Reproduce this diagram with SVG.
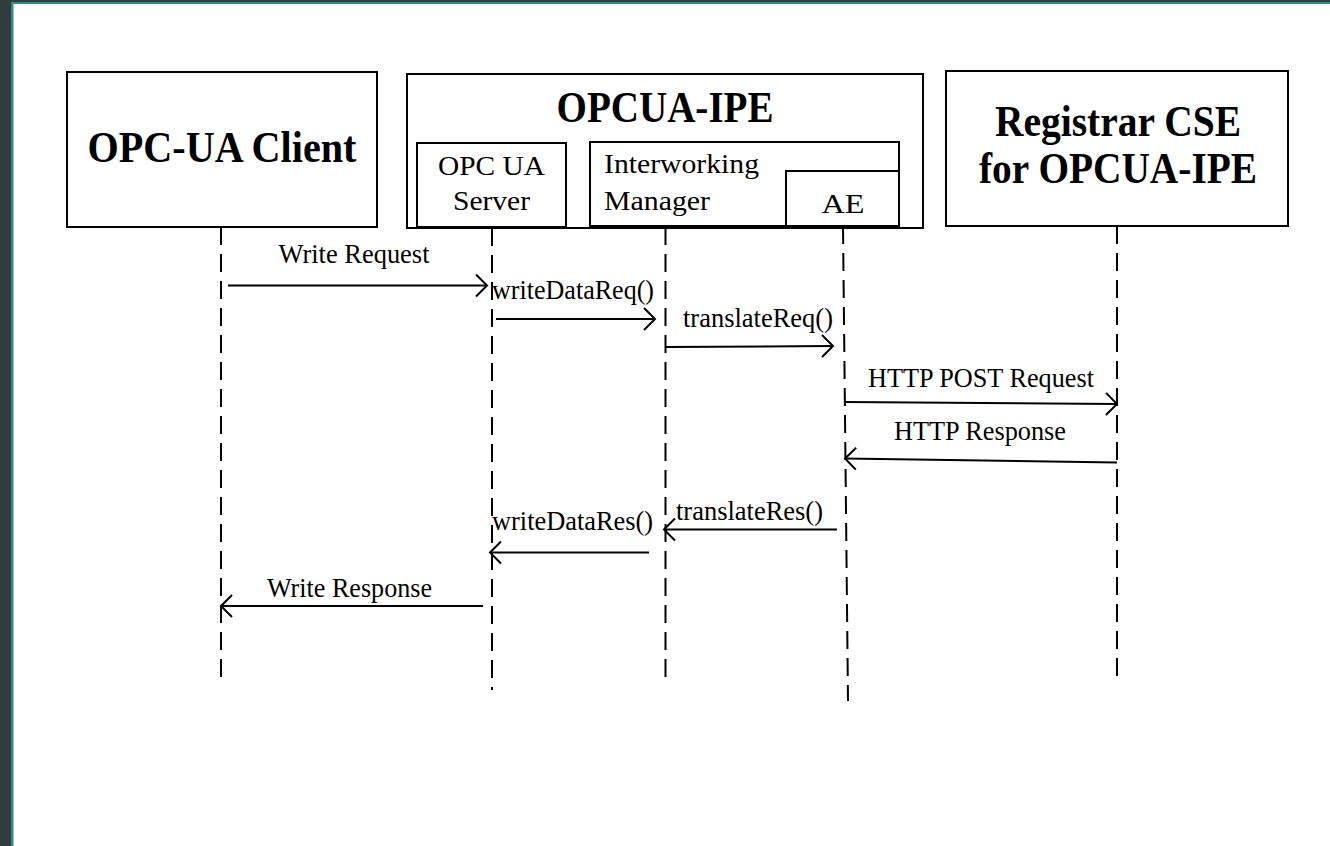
<svg xmlns="http://www.w3.org/2000/svg" width="1330" height="846" viewBox="0 0 1330 846">
  <style>
    .box { fill: #ffffff; stroke: #000000; stroke-width: 2; }
    .title { font-family: "Liberation Serif", "Times New Roman", serif; font-weight: bold; font-size: 44px; fill: #000000; }
    .sub { font-family: "Liberation Serif", "Times New Roman", serif; font-size: 28px; fill: #000000; }
    .msg { font-family: "Liberation Serif", "Times New Roman", serif; font-size: 27px; fill: #000000; }
    .life { fill: none; stroke: #000000; stroke-width: 2; stroke-dasharray: 18 9; }
    .arrow { fill: none; stroke: #000000; stroke-width: 2; marker-end: url(#open); }
  </style>
  <defs>
    <marker id="open" markerUnits="userSpaceOnUse" markerWidth="24" markerHeight="26" viewBox="-13 -13 15 26" refX="0" refY="0" orient="auto" overflow="visible">
      <path d="M -11 -11 L 0 0 L -11 11" fill="none" stroke="#000000" stroke-width="2"/>
    </marker>
  </defs>

  <!-- page background and window frame -->
  <rect x="0" y="0" width="1330" height="846" fill="#ffffff"/>
  <rect x="0" y="0" width="11" height="846" fill="#323c3c"/>
  <rect x="0" y="0" width="1330" height="2" fill="#323c3c"/>
  <rect x="11" y="2" width="2.5" height="844" fill="#2f8b8b"/>
  <rect x="11" y="2" width="1319" height="2" fill="#2f8b8b"/>

  <!-- participants -->
  <g id="opcua-client">
    <rect class="box" x="67" y="72" width="310" height="155"/>
    <text class="title" x="222" y="162" text-anchor="middle" textLength="269" lengthAdjust="spacingAndGlyphs">OPC-UA Client</text>
  </g>

  <g id="opcua-ipe">
    <rect class="box" x="407" y="74" width="516" height="154"/>
    <text class="title" x="665" y="122" text-anchor="middle" textLength="217" lengthAdjust="spacingAndGlyphs">OPCUA-IPE</text>
  </g>

  <g id="opcua-server">
    <rect class="box" x="417" y="143" width="149" height="84"/>
    <text class="sub" x="491.5" y="175" text-anchor="middle" textLength="107" lengthAdjust="spacingAndGlyphs">OPC UA</text>
    <text class="sub" x="491.5" y="210" text-anchor="middle" textLength="77" lengthAdjust="spacingAndGlyphs">Server</text>
  </g>

  <g id="interworking-manager">
    <rect class="box" x="590" y="142" width="309" height="84"/>
    <text class="sub" x="604" y="173" textLength="155" lengthAdjust="spacingAndGlyphs">Interworking</text>
    <text class="sub" x="604" y="210" textLength="106" lengthAdjust="spacingAndGlyphs">Manager</text>
  </g>

  <g id="ae">
    <rect class="box" x="786" y="171" width="113" height="55"/>
    <text class="sub" x="843" y="213" text-anchor="middle" textLength="43" lengthAdjust="spacingAndGlyphs">AE</text>
  </g>

  <g id="registrar-cse">
    <rect class="box" x="946" y="71" width="342" height="155"/>
    <text class="title" x="1118" y="136" text-anchor="middle" textLength="246" lengthAdjust="spacingAndGlyphs">Registrar CSE</text>
    <text class="title" x="1118" y="183" text-anchor="middle" textLength="278" lengthAdjust="spacingAndGlyphs">for OPCUA-IPE</text>
  </g>

  <!-- lifelines and messages -->
  <g id="connectors">
    <line class="life" x1="221" y1="227" x2="221" y2="680"/>
    <line class="life" x1="492" y1="228" x2="492" y2="690"/>
    <line class="life" x1="665.5" y1="227" x2="665.5" y2="682"/>
    <line class="life" x1="843" y1="226" x2="848" y2="701"/>
    <line class="life" x1="1117" y1="226" x2="1117" y2="678"/>

    <line class="arrow" x1="228" y1="285.5" x2="487" y2="285.5"/>
    <text class="msg" x="354" y="263" text-anchor="middle" textLength="151" lengthAdjust="spacingAndGlyphs">Write Request</text>

    <line class="arrow" x1="496" y1="319" x2="655" y2="319"/>
    <text class="msg" x="492" y="299" textLength="162" lengthAdjust="spacingAndGlyphs">writeDataReq()</text>

    <line class="arrow" x1="666" y1="347" x2="833" y2="346"/>
    <text class="msg" x="683" y="327" textLength="150" lengthAdjust="spacingAndGlyphs">translateReq()</text>

    <line class="arrow" x1="845" y1="402" x2="1117" y2="404"/>
    <text class="msg" x="868" y="387" textLength="226" lengthAdjust="spacingAndGlyphs">HTTP POST Request</text>

    <line class="arrow" x1="1117" y1="462.5" x2="845" y2="458.5"/>
    <text class="msg" x="894" y="440" textLength="172" lengthAdjust="spacingAndGlyphs">HTTP Response</text>

    <line class="arrow" x1="837" y1="529.5" x2="664" y2="529.5"/>
    <text class="msg" x="676" y="520" textLength="147" lengthAdjust="spacingAndGlyphs">translateRes()</text>

    <line class="arrow" x1="649" y1="552.5" x2="490" y2="552.5"/>
    <text class="msg" x="492" y="530" textLength="161" lengthAdjust="spacingAndGlyphs">writeDataRes()</text>

    <line class="arrow" x1="483" y1="606" x2="221" y2="606"/>
    <text class="msg" x="267" y="597" textLength="165" lengthAdjust="spacingAndGlyphs">Write Response</text>
  </g>
</svg>
